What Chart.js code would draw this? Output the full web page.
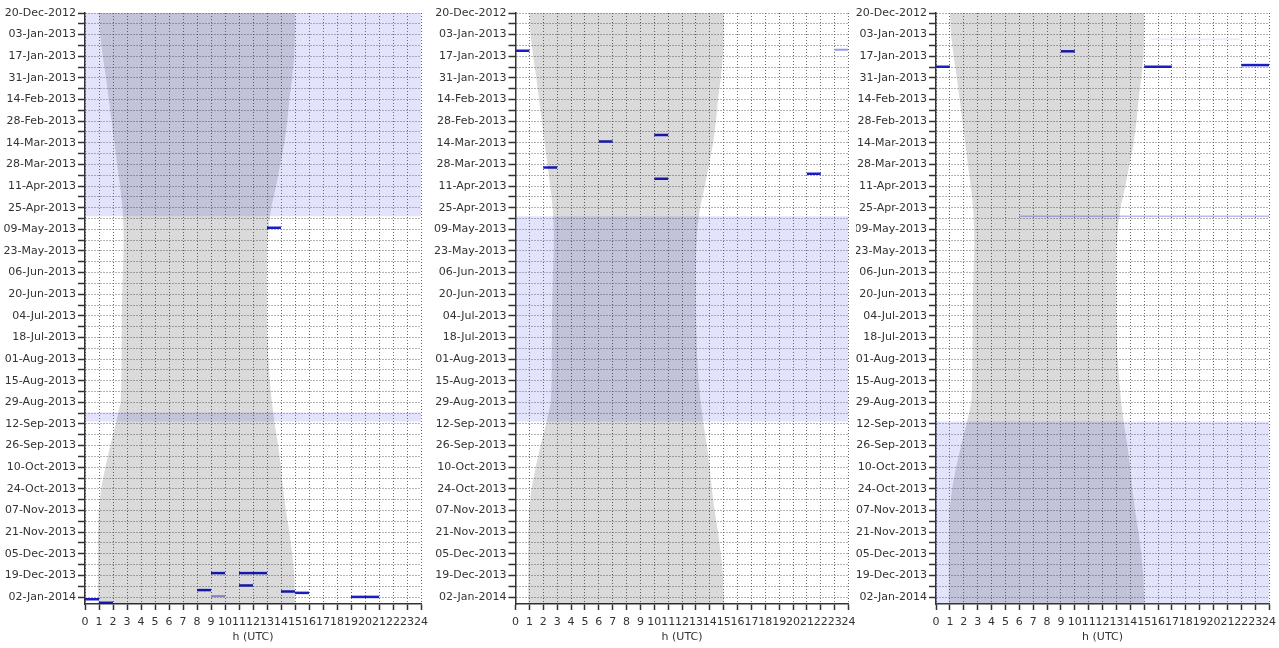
<!DOCTYPE html>
<html><head><meta charset="utf-8">
<script src="https://cdn.jsdelivr.net/npm/chart.js@4.4.1/dist/chart.umd.min.js"></script>
<style>
html,body{margin:0;padding:0;background:#fff;width:1279px;height:648px;overflow:hidden}
.p{position:absolute;top:0;height:648px}
</style></head><body>
<div class="p" style="left:0;width:428px"><canvas id="c1"></canvas></div>
<div class="p" style="left:428px;width:428px"><canvas id="c2"></canvas></div>
<div class="p" style="left:856px;width:423px"><canvas id="c3"></canvas></div>
<script>
// ---- data ----
const axisStart = '2012-12-20T00:00';
const axisEnd = '2014-01-06T12:00';
const hourTicks = [0,1,2,3,4,5,6,7,8,9,10,11,12,13,14,15,16,17,18,19,20,21,22,23,24];
const xTitle = 'h (UTC)';

// grey band (night) boundaries, h UTC
const nightDates = ['2012-12-20','2013-01-03','2013-01-17','2013-01-31','2013-02-14','2013-02-28','2013-03-14','2013-03-28','2013-04-11','2013-04-25','2013-05-09','2013-05-23','2013-06-06','2013-06-20','2013-07-04','2013-07-18','2013-08-01','2013-08-15','2013-08-29','2013-09-12','2013-09-26','2013-10-10','2013-10-24','2013-11-07','2013-11-21','2013-12-05','2013-12-19','2014-01-02','2014-01-06T12:00'];
const nightStart = [1.0,1.08,1.27,1.5,1.7,1.9,2.1,2.3,2.5,2.68,2.75,2.75,2.7,2.66,2.63,2.6,2.6,2.6,2.55,2.2,1.8,1.45,1.15,0.98,0.93,0.92,0.92,0.92,0.92];
const nightEnd   = [15.0,15.0,14.95,14.8,14.6,14.45,14.25,13.95,13.65,13.3,13.1,13.02,13.0,13.0,13.0,13.05,13.1,13.2,13.35,13.55,13.8,14.0,14.15,14.35,14.6,14.8,14.95,15.0,15.0];

// shaded date periods per panel
const panel1Periods = [['2012-12-20T00:00','2013-04-30T14:00'],['2013-09-04T14:00','2013-09-10T10:00']];
const panel2Periods = [['2013-04-30T14:00','2013-09-10T10:00']];
const panel3Periods = [['2013-09-10T10:00','2014-01-06T12:00']];

// events: [date, start h, end h]
const panel1Events = [['2013-05-08T00:00',13,14],['2014-01-03T10:00',0,1],['2014-01-05T17:00',1,2],['2013-12-28T12:00',8,9],['2013-12-17T12:00',9,10],['2013-12-17T12:00',11,13],['2013-12-25T12:00',11,12],['2013-12-29T10:00',14,15],['2013-12-30T07:00',15,16],['2014-01-01T22:00',19,21]];
const panel1FaintEvents = [['2014-01-01T10:00',9,10]];
const panel2Events = [['2013-01-13T10:00',0,1],['2013-03-30T00:00',2,3],['2013-03-13T05:00',6,7],['2013-03-08T22:00',10,11],['2013-04-06T05:00',10,11],['2013-04-03T00:00',21,22]];
const panel2FaintEvents = [['2013-01-12T19:00',23,24]];
const panel3Events = [['2013-01-23T19:00',0,1],['2013-01-13T19:00',9,10],['2013-01-23T19:00',15,17],['2013-01-22T17:00',22,24]];
const panel3FaintEvents = [];
const panel3ThinEvents = [['2013-04-30T14:00',6,24]];
const panel3VeryFaintEvents = [['2013-01-05T22:00',15.5,21.9]];

// ---- helpers ----
function toDays(s){
  const iso = s.length === 10 ? s + 'T00:00' : s;
  return (Date.parse(iso + ':00Z') - Date.parse(axisStart + ':00Z')) / 86400000;
}
const MON = ['Jan','Feb','Mar','Apr','May','Jun','Jul','Aug','Sep','Oct','Nov','Dec'];
function fmtDay(v){
  const d = new Date(Date.parse(axisStart + ':00Z') + v * 86400000);
  const dd = String(d.getUTCDate()).padStart(2,'0');
  return dd + '-' + MON[d.getUTCMonth()] + '-' + d.getUTCFullYear();
}

Chart.defaults.font.family = "'DejaVu Sans', sans-serif";
Chart.defaults.font.size = 11;
Chart.defaults.color = '#333';

function polyDs(pts, color){
  return {data: pts, showLine: true, fill: 'shape', backgroundColor: color, borderWidth: 0, borderColor: 'rgba(0,0,0,0)', pointRadius: 0, tension: 0};
}
function segDs(ev, color, w){
  const y = toDays(ev[0]);
  return {data: [{x: ev[1], y: y}, {x: ev[2], y: y}], showLine: true, fill: false, borderColor: color, borderWidth: w, pointRadius: 0, borderCapStyle: 'butt'};
}

function build(id, periods, events, faint, thin, veryFaint, yWidth, padRight){
  const ds = [];
  const night = [];
  for (let i = 0; i < nightDates.length; i++) night.push({x: nightStart[i], y: toDays(nightDates[i])});
  for (let i = nightDates.length - 1; i >= 0; i--) night.push({x: nightEnd[i], y: toDays(nightDates[i])});
  ds.push(polyDs(night, 'rgba(0,0,0,0.145)'));
  periods.forEach(p => {
    const a = toDays(p[0]), b = toDays(p[1]);
    ds.push(polyDs([{x:0,y:a},{x:24,y:a},{x:24,y:b},{x:0,y:b}], 'rgba(90,90,240,0.17)'));
  });
  (veryFaint || []).forEach(e => ds.push(segDs(e, 'rgba(150,150,235,0.3)', 1)));
  (thin || []).forEach(e => ds.push(segDs(e, 'rgba(130,130,230,0.55)', 1.5)));
  (faint || []).forEach(e => ds.push(segDs(e, '#9a9ae8', 2)));
  events.forEach(e => ds.push(segDs(e, '#1c1cc4', 2.5)));

  const yMax = toDays(axisEnd);
  new Chart(document.getElementById(id), {
    type: 'scatter',
    data: {datasets: ds},
    options: {
      responsive: true, maintainAspectRatio: false, animation: false,
      layout: {padding: {top: 13, right: padRight, bottom: 0, left: 0}},
      plugins: {legend: {display: false}, tooltip: {enabled: false}},
      scales: {
        x: {
          type: 'linear', min: 0, max: 24,
          afterFit: s => { s.height = 44; s.paddingLeft = 0; s.paddingRight = 0; },
          afterBuildTicks: s => { s.ticks = hourTicks.map(v => ({value: v})); },
          ticks: {autoSkip: false, maxRotation: 0, minRotation: 0, padding: 6, color: '#333', callback: v => String(v)},
          grid: {color: '#6a6a6a', lineWidth: 1, tickColor: '#333', tickLength: 6, tickWidth: 1.5},
          border: {display: true, color: '#333', width: 1.5, dash: [1,2]},
          title: {display: true, text: xTitle, color: '#333', padding: {top: 0, bottom: 4}}
        },
        y: {
          type: 'linear', min: 0, max: yMax, reverse: true,
          afterFit: s => { s.width = yWidth; },
          afterBuildTicks: s => {
            const t = [];
            for (let v = 0; v <= yMax; v += 7) t.push({value: v});
            s.ticks = t;
          },
          ticks: {autoSkip: false, padding: 2, color: '#333', callback: v => (v % 14 === 0 ? fmtDay(v) : '')},
          grid: {color: '#6a6a6a', lineWidth: 1, tickColor: '#333', tickLength: 7, tickWidth: 1.5},
          border: {display: true, color: '#333', width: 1.5, dash: [1,2]}
        }
      }
    }
  });
}

build('c1', panel1Periods, panel1Events, panel1FaintEvents, null, null, 85, 7);
build('c2', panel2Periods, panel2Events, panel2FaintEvents, null, null, 87.5, 7.5);
build('c3', panel3Periods, panel3Events, panel3FaintEvents, panel3ThinEvents, panel3VeryFaintEvents, 80, 10);
</script>
</body></html>
